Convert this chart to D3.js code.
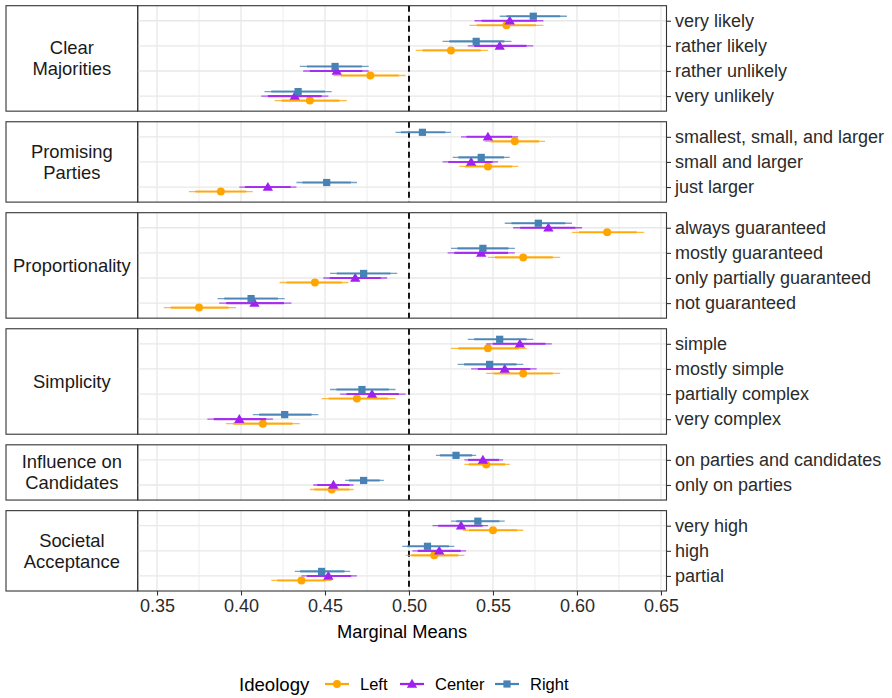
<!DOCTYPE html>
<html>
<head>
<meta charset="utf-8">
<script src="https://cdn.jsdelivr.net/npm/d3@7"></script>
<style>
body { margin:0; padding:0; background:#fff; }
svg { display:block; font-family:"Liberation Sans", Arial, Helvetica, sans-serif; }
</style>
</head>
<body>
<svg id="chart" width="892" height="698"></svg>
<script>
// facets (strip labels, already wrapped) and their attribute levels
var facetLabels = [["Clear","Majorities"], ["Promising","Parties"], ["Proportionality"],
                   ["Simplicity"], ["Influence on","Candidates"], ["Societal","Acceptance"]];
var levels = [
  ["very likely","rather likely","rather unlikely","very unlikely"],
  ["smallest, small, and larger","small and larger","just larger"],
  ["always guaranteed","mostly guaranteed","only partially guaranteed","not guaranteed"],
  ["simple","mostly simple","partially complex","very complex"],
  ["on parties and candidates","only on parties"],
  ["very high","high","partial"]
];

// marginal means + CI, one entry per level in order above
var leftEst  = [0.558,0.525,0.477,0.441, 0.563,0.547,0.388, 0.618,0.568,0.444,0.375, 0.547,0.568,0.469,0.413, 0.546,0.454, 0.550,0.515,0.436];
var leftLo   = [0.536,0.504,0.455,0.420, 0.545,0.530,0.369, 0.597,0.547,0.423,0.354, 0.525,0.546,0.448,0.391, 0.533,0.441, 0.532,0.498,0.418];
var leftHi   = [0.580,0.547,0.498,0.463, 0.581,0.565,0.407, 0.640,0.590,0.464,0.397, 0.570,0.590,0.492,0.435, 0.560,0.467, 0.568,0.533,0.454];
var centerEst = [0.560,0.554,0.457,0.432, 0.547,0.537,0.416, 0.583,0.543,0.468,0.408, 0.566,0.557,0.478,0.399, 0.544,0.455, 0.531,0.518,0.452];
var centerLo  = [0.539,0.535,0.437,0.412, 0.531,0.520,0.399, 0.562,0.523,0.449,0.387, 0.546,0.537,0.459,0.380, 0.533,0.443, 0.514,0.502,0.436];
var centerHi  = [0.580,0.574,0.476,0.452, 0.565,0.553,0.433, 0.603,0.563,0.487,0.430, 0.585,0.576,0.498,0.419, 0.556,0.467, 0.547,0.534,0.469];
var rightEst = [0.574,0.540,0.456,0.434, 0.508,0.543,0.451, 0.577,0.544,0.473,0.406, 0.554,0.548,0.472,0.426, 0.528,0.473, 0.541,0.511,0.448];
var rightLo  = [0.554,0.520,0.435,0.414, 0.492,0.526,0.433, 0.557,0.525,0.453,0.386, 0.535,0.529,0.453,0.407, 0.516,0.462, 0.525,0.496,0.432];
var rightHi  = [0.594,0.561,0.476,0.454, 0.525,0.560,0.469, 0.597,0.563,0.493,0.426, 0.574,0.568,0.492,0.446, 0.540,0.485, 0.557,0.527,0.465];

var xTicks = [0.35,0.40,0.45,0.50,0.55,0.60,0.65];
var xMinor = [0.375,0.425,0.475,0.525,0.575,0.625];

var series = [
  { name:"Left",   color:"#FFA500", shape:d3.symbolCircle,   size:50, dodge: 0.18, est:leftEst,   lo:leftLo,   hi:leftHi },
  { name:"Center", color:"#A020F0", shape:d3.symbolTriangle, size:46, dodge: 0,    est:centerEst, lo:centerLo, hi:centerHi },
  { name:"Right",  color:"#4682B4", shape:d3.symbolSquare,   size:52, dodge:-0.18, est:rightEst,  lo:rightLo,  hi:rightHi }
];

var svg = d3.select("#chart");
var FS = 18;

var stripL = 6, panelL = 137.7, panelR = 666.5;
var top0 = 5.7, gap = 10.6, bottomAll = 591;
var nTot = d3.sum(levels, function(l){ return l.length + 0.2; });
var unit = (bottomAll - top0 - gap*(levels.length-1)) / nTot;

var x = d3.scaleLinear().domain([0.3385, 0.6533]).range([panelL, panelR]);

var idx = 0, y0 = top0;
levels.forEach(function(lv, f) {
  var h = (lv.length + 0.2) * unit;
  var y = d3.scalePoint().domain(lv).range([y0, y0 + h]).padding(0.6);
  var g = svg.append("g");

  // strip
  g.append("rect").attr("x", stripL).attr("y", y0).attr("width", panelL - stripL).attr("height", h)
    .attr("fill", "#fff").attr("stroke", "#333").attr("stroke-width", 1.1);
  var lines = facetLabels[f];
  var st = g.append("text").attr("x", (stripL + panelL)/2).attr("text-anchor", "middle")
    .attr("font-size", FS + 0.4).attr("fill", "#1a1a1a");
  lines.forEach(function(s, i) {
    st.append("tspan").attr("x", (stripL + panelL)/2)
      .attr("y", y0 + h/2 + (i - (lines.length-1)/2) * 21 + 6.5).text(s);
  });

  // grid
  g.selectAll(".minor").data(xMinor).enter().append("line")
    .attr("x1", x).attr("x2", x).attr("y1", y0).attr("y2", y0 + h)
    .attr("stroke", "#ededed").attr("stroke-width", 1);
  g.selectAll(".major").data(xTicks).enter().append("line")
    .attr("x1", x).attr("x2", x).attr("y1", y0).attr("y2", y0 + h)
    .attr("stroke", "#e8e8e8").attr("stroke-width", 1.3);
  g.selectAll(".hgrid").data(lv).enter().append("line")
    .attr("x1", panelL).attr("x2", panelR).attr("y1", y).attr("y2", y)
    .attr("stroke", "#e8e8e8").attr("stroke-width", 1.3);

  // reference line
  g.append("line").attr("x1", x(0.5)).attr("x2", x(0.5)).attr("y1", y0).attr("y2", y0 + h)
    .attr("stroke", "#000").attr("stroke-width", 1.8).attr("stroke-dasharray", "6,4");

  // estimates
  series.forEach(function(s) {
    lv.forEach(function(l, i) {
      var k = idx + i;
      var yy = y(l) + s.dodge * unit;
      var e = s.est[k], lo = s.lo[k], hi = s.hi[k];
      g.append("line").attr("x1", x(lo)).attr("x2", x(hi)).attr("y1", yy).attr("y2", yy)
        .attr("stroke", s.color).attr("stroke-width", 1.3).attr("opacity", 0.75);
      g.append("line").attr("x1", x(e - (e - lo) * 0.8)).attr("x2", x(e + (hi - e) * 0.8))
        .attr("y1", yy).attr("y2", yy)
        .attr("stroke", s.color).attr("stroke-width", 2.1).attr("opacity", 0.85);
      g.append("path").attr("d", d3.symbol().type(s.shape).size(s.size)())
        .attr("transform", "translate(" + x(e) + "," + (yy + (s.shape === d3.symbolTriangle ? 0.8 : 0)) + ")")
        .attr("fill", s.color);
    });
  });

  // panel border
  g.append("rect").attr("x", panelL).attr("y", y0).attr("width", panelR - panelL).attr("height", h)
    .attr("fill", "none").attr("stroke", "#333").attr("stroke-width", 1.1);

  // right axis
  var ay = g.append("g").attr("transform", "translate(" + panelR + ",0)")
    .call(d3.axisRight(y).tickSize(4.5).tickPadding(4));
  ay.select(".domain").remove();
  ay.selectAll(".tick line").attr("stroke", "#333").attr("stroke-width", 1.1);
  ay.selectAll(".tick text").attr("font-size", FS).attr("fill", "#2b2b2b")
    .attr("font-family", "Liberation Sans, Arial, sans-serif");

  idx += lv.length;
  y0 += h + gap;
});

// bottom axis
var bottomY = y0 - gap;
var ax = svg.append("g").attr("transform", "translate(0," + bottomY + ")")
  .call(d3.axisBottom(x).tickValues(xTicks).tickFormat(d3.format(".2f")).tickSize(4.5).tickPadding(4));
ax.select(".domain").remove();
ax.selectAll(".tick line").attr("stroke", "#333").attr("stroke-width", 1.1);
ax.selectAll(".tick text").attr("font-size", FS).attr("fill", "#2b2b2b")
  .attr("font-family", "Liberation Sans, Arial, sans-serif");

svg.append("text").attr("x", (panelL + panelR)/2).attr("y", 638).attr("text-anchor", "middle")
  .attr("font-size", FS + 0.3).attr("fill", "#000").text("Marginal Means");

// legend
var leg = svg.append("g").attr("transform", "translate(0,684)");
leg.append("text").attr("x", 239).attr("y", 6.5).attr("font-size", FS + 0.6).attr("fill", "#000").text("Ideology");
var keyX = [337, 412, 507];
series.forEach(function(s, i) {
  var kx = keyX[i];
  leg.append("line").attr("x1", kx - 12).attr("x2", kx + 12).attr("y1", 0).attr("y2", 0)
    .attr("stroke", s.color).attr("stroke-width", 2.2);
  leg.append("path").attr("d", d3.symbol().type(s.shape).size(s.size)())
    .attr("transform", "translate(" + kx + "," + (s.shape === d3.symbolTriangle ? 0.8 : 0) + ")")
    .attr("fill", s.color);
  leg.append("text").attr("x", kx + 23).attr("y", 6).attr("font-size", FS - 1.5).attr("fill", "#000").text(s.name);
});
</script>
</body>
</html>
